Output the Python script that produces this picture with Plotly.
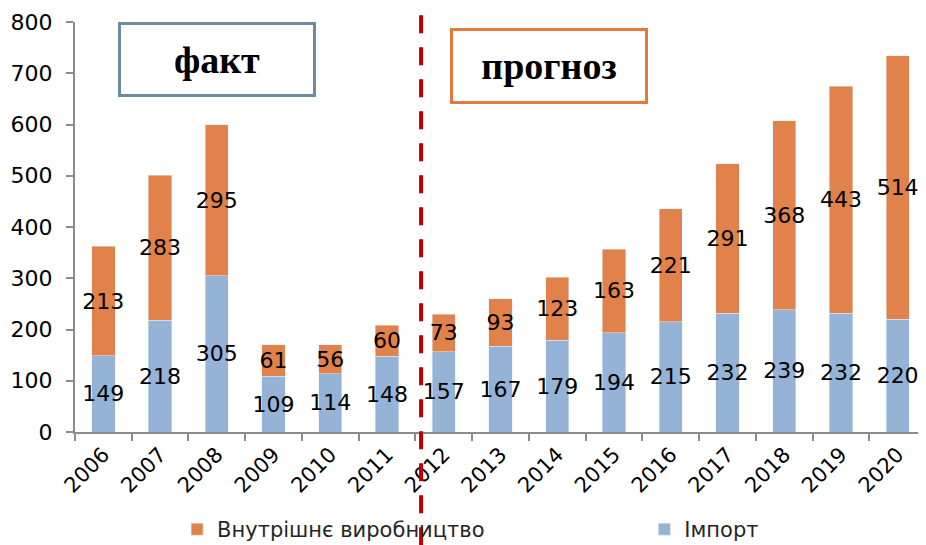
import plotly.graph_objects as go

years = ["2006", "2007", "2008", "2009", "2010", "2011", "2012", "2013",
         "2014", "2015", "2016", "2017", "2018", "2019", "2020"]
imports = [149, 218, 305, 109, 114, 148, 157, 167, 179, 194, 215, 232, 239, 232, 220]
domestic = [213, 283, 295, 61, 56, 60, 73, 93, 123, 163, 221, 291, 368, 443, 514]
name_domestic = "Внутрішнє виробництво"
name_import = "Імпорт"
label_fact = "факт"
label_forecast = "прогноз"
divider_x = 5.6  # between 2011 and 2012

BLUE = "#95B3D7"
ORANGE = "#E0824A"
AXIS = "#8C8C8C"
label_font = dict(family="DejaVu Sans", size=22, color="black")
legend_font = dict(family="DejaVu Sans", size=21, color="#262626")

fig = go.Figure()
fig.add_trace(go.Bar(
    x=years, y=imports, name=name_import, marker_color=BLUE,
    text=[str(v) for v in imports], textposition="inside", insidetextanchor="middle",
    textangle=0, constraintext="none", textfont=label_font, legend="legend2",
    showlegend=True,
))
fig.add_trace(go.Bar(
    x=years, y=domestic, name=name_domestic, marker_color=ORANGE,
    text=[str(v) for v in domestic], textposition="inside", insidetextanchor="middle",
    textangle=0, constraintext="none", textfont=label_font, legend="legend",
    showlegend=True,
))

fig.update_layout(
    barmode="stack",
    bargap=0.59,
    width=918, height=537,
    showlegend=True,
    margin=dict(l=67, r=0, t=14, b=113, autoexpand=False),
    plot_bgcolor="white", paper_bgcolor="white",
    font=dict(family="DejaVu Sans", color="black"),
    legend=dict(
        orientation="h", x=0.12, xanchor="left", y=-0.238, yanchor="middle",
        font=legend_font, bgcolor="rgba(0,0,0,0)",
    ),
    legend2=dict(
        orientation="h", x=0.669, xanchor="left", y=-0.238, yanchor="middle",
        font=legend_font, bgcolor="rgba(0,0,0,0)",
    ),
    xaxis=dict(
        type="category", showline=True, linecolor=AXIS, linewidth=2,
        ticks="outside", tickson="boundaries", ticklen=7, tickcolor=AXIS, tickwidth=2,
        tickangle=-45, tickfont=dict(family="DejaVu Sans", size=21, color="black"),
        showgrid=False, automargin=False,
    ),
    yaxis=dict(
        range=[0, 800], dtick=100, showline=True, linecolor=AXIS, linewidth=2,
        ticks="outside", ticklen=7, tickcolor=AXIS, tickwidth=2,
        ticklabelstandoff=9,
        tickfont=dict(family="DejaVu Sans", size=22, color="black"),
        showgrid=False, zeroline=False, automargin=False,
    ),
    shapes=[dict(
        type="line", xref="x", yref="paper", x0=divider_x, x1=divider_x,
        y0=-0.276, y1=1.0195, line=dict(color="#C00000", width=4, dash="18px,14px"),
        layer="above",
    )],
    annotations=[
        dict(text="<b>%s</b>" % label_fact, xref="paper", yref="paper",
             x=0.1669, y=0.9085, xanchor="center", yanchor="middle", showarrow=False,
             font=dict(family="Liberation Serif", size=38, color="black"),
             bordercolor="#6E8CA0", borderwidth=3, borderpad=0, bgcolor="white",
             width=192, height=69),
        dict(text="<b>%s</b>" % label_forecast, xref="paper", yref="paper",
             x=0.557, y=0.8927, xanchor="center", yanchor="middle", showarrow=False,
             font=dict(family="Liberation Serif", size=38, color="black"),
             bordercolor="#E07B39", borderwidth=3, borderpad=0, bgcolor="white",
             width=192, height=70),
    ],
)

fig.write_html("out.html")
